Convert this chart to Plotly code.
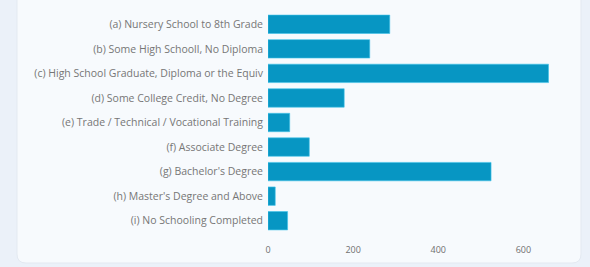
import plotly.graph_objects as go

categories = [
    "(a) Nursery School to 8th Grade",
    "(b) Some High Schooll, No Diploma",
    "(c) High School Graduate, Diploma or the Equiv",
    "(d) Some College Credit, No Degree",
    "(e) Trade / Technical / Vocational Training",
    "(f) Associate Degree",
    "(g) Bachelor's Degree",
    "(h) Master's Degree and Above",
    "(i) No Schooling Completed",
]
values = [286, 239, 659, 179, 51, 97, 524, 17, 46]
tick_vals = [0, 200, 400, 600]

W, H = 590, 267
ml, mr, mt, mb = 268, 27, 12, 34
pw, ph = W - ml - mr, H - mt - mb

def px_x(p):
    return (p - ml) / pw

def px_y(p):
    return (H - mb - p) / ph

# rounded card path (pixel coords -> paper)
x0, x1, y0, y1, r = 17, 581, -12, 263, 9
path = (
    f"M {px_x(x0 + r)},{px_y(y0)} L {px_x(x1 - r)},{px_y(y0)} "
    f"Q {px_x(x1)},{px_y(y0)} {px_x(x1)},{px_y(y0 + r)} "
    f"L {px_x(x1)},{px_y(y1 - r)} Q {px_x(x1)},{px_y(y1)} {px_x(x1 - r)},{px_y(y1)} "
    f"L {px_x(x0 + r)},{px_y(y1)} Q {px_x(x0)},{px_y(y1)} {px_x(x0)},{px_y(y1 - r)} "
    f"L {px_x(x0)},{px_y(y0 + r)} Q {px_x(x0)},{px_y(y0)} {px_x(x0 + r)},{px_y(y0)} Z"
)

fig = go.Figure(
    go.Bar(
        x=values,
        y=categories,
        orientation="h",
        marker=dict(color="#0796c3", line=dict(color="#3fc3ea", width=0.6)),
    )
)

fig.update_layout(
    width=W,
    height=H,
    margin=dict(l=ml, r=mr, t=mt, b=mb, autoexpand=False),
    paper_bgcolor="#ebf1f9",
    plot_bgcolor="rgba(0,0,0,0)",
    bargap=0.25,
    showlegend=False,
    font=dict(family="Open Sans", color="#6b6b6b"),
    shapes=[
        dict(
            type="path",
            path=path,
            xref="paper",
            yref="paper",
            fillcolor="#f7fafd",
            line=dict(color="#e3e9f1", width=1),
            layer="below",
        )
    ],
)

fig.update_xaxes(
    range=[0, 693],
    tickvals=tick_vals,
    showgrid=False,
    zeroline=False,
    showline=False,
    tickfont=dict(size=9, color="#707070"),
    ticklabelstandoff=10,
)
fig.update_yaxes(
    autorange="reversed",
    showgrid=False,
    zeroline=False,
    showline=False,
    tickfont=dict(size=10.5, color="#767676"),
    ticklabelstandoff=4,
)

fig.write_html(
    "out.html",
    config={"displayModeBar": False},
    post_script="document.body.style.margin='0';document.body.style.overflow='hidden';",
)
